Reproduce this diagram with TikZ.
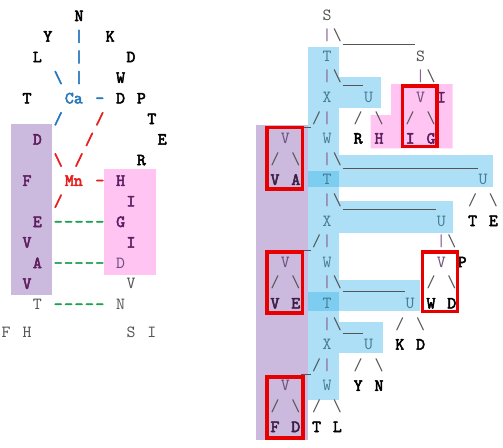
\documentclass[tikz,border=0pt]{standalone}
\usepackage{fontspec}
\setmonofont{lmmono10-regular.otf}[AutoFakeBold=3]
\definecolor{trunkfill}{RGB}{173,224,246}
\definecolor{cellfill}{RGB}{125,205,240}
\definecolor{lilacfill}{RGB}{203,185,222}
\definecolor{pinkfill}{RGB}{255,196,242}
\definecolor{boxred}{RGB}{232,0,0}
\definecolor{trunkcol}{RGB}{70,125,150}
\definecolor{textgray}{RGB}{85,85,85}
\definecolor{barcol}{RGB}{140,100,150}
\definecolor{leafpurple}{RGB}{110,80,125}
\definecolor{boldpurple}{RGB}{95,30,95}
\definecolor{darkpurple}{RGB}{60,30,70}
\definecolor{metalblue}{RGB}{40,120,190}
\definecolor{metalred}{RGB}{230,30,30}
\definecolor{bondgreen}{RGB}{30,160,80}

\begin{document}
\begin{tikzpicture}[x=1pt,y=-1pt,
  glyph/.style={font=\fontsize{17}{20.6}\selectfont\ttfamily,inner sep=0pt,anchor=base},
  heavy/.style={glyph,font=\fontsize{17}{20.6}\selectfont\ttfamily\bfseries},
  uline/.style={textgray,line width=0.9pt},
  redbox/.style={draw=boxred,line width=3.5pt}]
  \useasboundingbox (0,0) rectangle (503,447);

  % shaded regions, left contact map
  \fill[lilacfill] (11,124) rectangle (52.3,295);
  \fill[pinkfill] (104.3,168.5) rectangle (156,275);

  % shaded regions, right tree
  \fill[lilacfill] (256,124.5) rectangle (308,440);
  \fill[trunkfill] (308,46.5) rectangle (339,400);
  \fill[trunkfill] (339,77) rectangle (381,108);
  \fill[trunkfill] (339,155) rectangle (493,186.5);
  \fill[trunkfill] (339,201) rectangle (452.5,232.5);
  \fill[trunkfill] (339,280) rectangle (420,311);
  \fill[trunkfill] (339,322) rectangle (382.5,353);
  \fill[cellfill] (308,171) rectangle (339,187);
  \fill[cellfill] (308,292) rectangle (339,311);
  \fill[pinkfill] (370.7,115) -- (391,115) -- (391,84) -- (452.5,84)
     -- (452.5,148.3) -- (370.7,148.3) -- cycle;

  % left: residues round the metals (column \k, row \i)
  \foreach \k/\i/\t [count=\n] in {7/0/N,4/1/Y,10/1/K,3/2/L,12/2/D,11/3/W,2/4/T,
      11/4/D,13/4/P,14/5/T,15/6/E,13/7/R}
    \node[heavy] (lb\n) at (6.2+\k*10.4,21+\i*20.6) {\t};
  \foreach \k/\i/\t [count=\n] in {3/6/D,2/8/F,11/8/H,12/9/I,3/10/E,11/10/G,
      2/11/V,12/11/I,3/12/A,2/13/V}
    \node[heavy,boldpurple] (lp\n) at (6.2+\k*10.4,21+\i*20.6) {\t};
  \node[glyph,leafpurple] (lpd) at (6.2+11*10.4,21+12*20.6) {D};
  \foreach \k/\i/\t [count=\n] in {12/13/V,3/14/T,11/14/N}
    \node[glyph,textgray] (lg\n) at (6.2+\k*10.4,21+\i*20.6) {\t};
  \foreach \k/\t [count=\n] in {0/F,2/H,12/S,14/I}
    \node[glyph,textgray] (lf\n) at (6.2+\k*10.4,337.5) {\t};

  % calcium and its contacts
  \node[heavy,metalblue] (Ca) at (6.2+6.5*10.4,21+4*20.6) {Ca};
  \foreach \i [count=\n] in {1,2,3}
    \node[heavy,metalblue] (cabar\n) at (6.2+7*10.4,21+\i*20.6) {|};
  \node[heavy,metalblue] (cabs) at (6.2+5*10.4,21+3*20.6) {\textbackslash};
  \node[heavy,metalblue] (cafs) at (6.2+5*10.4,21+5*20.6) {/};
  \node[heavy,metalblue] (cadash) at (6.2+9*10.4,21+4*20.6) {-};

  % manganese and its contacts
  \node[heavy,metalred] (Mn) at (6.2+6.5*10.4,21+8*20.6) {Mn};
  \foreach \k/\i [count=\n] in {9/5,8/6,7/7,5/9}
    \node[heavy,metalred] (mnfs\n) at (6.2+\k*10.4,21+\i*20.6) {/};
  \node[heavy,metalred] (mnbs) at (6.2+5*10.4,21+7*20.6) {\textbackslash};
  \node[heavy,metalred] (mndash) at (6.2+9*10.4,21+8*20.6) {-};

  % strand pairing
  \foreach \i in {10,12,14}
    \foreach \k in {5,...,9}
      \node[heavy,bondgreen] (hb\i-\k) at (6.2+\k*10.4,21+\i*20.6) {-};

  % right: tree nodes (column \j, row \i)
  \foreach \j/\i/\t [count=\n] in {5/0/S,14/2/S}
    \node[glyph,textgray] (rs\n) at (275+\j*10.4,20+\i*20.6) {\t};
  \foreach \j/\i/\t [count=\n] in {5/2/T,5/4/X,9/4/U,5/6/W,5/8/T,20/8/U,5/10/X,
      16/10/U,5/12/W,5/14/T,13/14/U,5/16/X,9/16/U,5/18/W}
    \node[glyph,trunkcol] (tk\n) at (275+\j*10.4,20+\i*20.6) {\t};
  \foreach \j/\i [count=\n] in {14/4,1/6,1/12,16/12,1/18}
    \node[glyph,leafpurple] (rv\n) at (275+\j*10.4,20+\i*20.6) {V};
  \foreach \j/\i/\t [count=\n] in {16/4/I,10/6/H,13/6/I,15/6/G}
    \node[heavy,boldpurple] (rp\n) at (275+\j*10.4,20+\i*20.6) {\t};
  \foreach \j/\i/\t [count=\n] in {0/8/V,2/8/A,0/14/V,2/14/E,0/20/F,2/20/D}
    \node[heavy,darkpurple] (rd\n) at (275+\j*10.4,20+\i*20.6) {\t};
  \foreach \j/\i/\t [count=\n] in {8/6/R,19/10/T,21/10/E,18/12/P,15/14/W,17/14/D,
      12/16/K,14/16/D,8/18/Y,10/18/N,4/20/T,6/20/L}
    \node[heavy] (rb\n) at (275+\j*10.4,20+\i*20.6) {\t};

  % branches
  \foreach \j/\i [count=\n] in {5/1,5/3,14/3,5/5,5/7,5/9,5/11,16/11,5/13,5/15,5/17}
    \node[glyph,barcol] (bar\n) at (275+\j*10.4,20+\i*20.6) {|};
  \foreach \j/\i [count=\n] in {4/5,8/5,13/5,0/7,19/9,4/11,0/13,15/13,12/15,
      4/17,8/17,0/19,4/19}
    \node[glyph,textgray] (fs\n) at (275+\j*10.4,20+\i*20.6) {/};
  \foreach \j/\i [count=\n] in {6/1,6/3,15/3,10/5,15/5,2/7,6/7,6/9,21/9,17/11,
      2/13,6/13,17/13,6/15,14/15,10/17,2/19,6/19}
    \node[glyph,textgray] (bs\n) at (275+\j*10.4,20+\i*20.6) {\textbackslash};
  \foreach \i/\m in {1/7,3/2,7/13,9/9,13/6,15/2}
    \draw[uline] (342.6,24+\i*20.6) -- ++(\m*10.4,0);
  \foreach \i in {5,11,17}
    \draw[uline] (301,24+\i*20.6) -- ++(10.4,0);

  % highlighted subtrees
  \draw[redbox] (402.5,85.8) rectangle (437.2,146.5);
  \draw[redbox] (266.8,127.5) rectangle (302.3,189);
  \draw[redbox] (266.8,251.8) rectangle (302.3,313.2);
  \draw[redbox] (266.8,376.8) rectangle (303,438.2);
  \draw[redbox] (422.5,251.8) rectangle (457.5,311.5);
\end{tikzpicture}
\end{document}
